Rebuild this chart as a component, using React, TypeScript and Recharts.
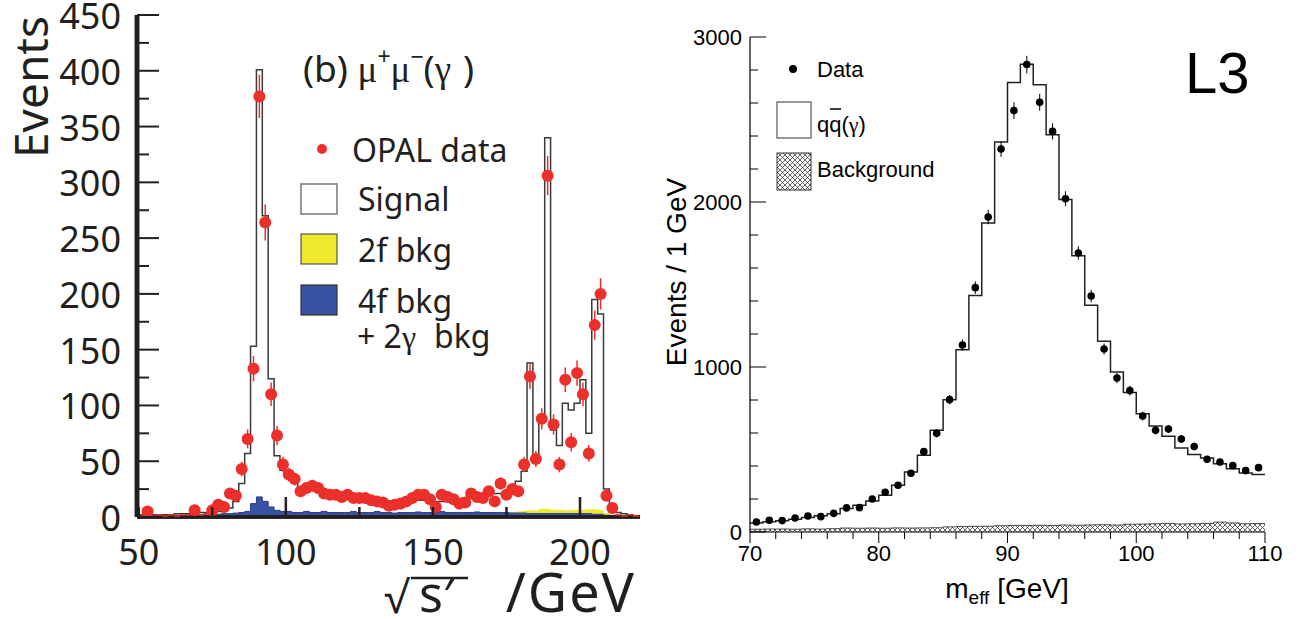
import React from 'react';
import { ComposedChart, Area, Scatter, XAxis, YAxis, ErrorBar, ReferenceLine } from 'recharts';

// ---------------- Left panel: OPAL mu+mu-(gamma) ----------------
const opalEdges = [
  50, 52, 54, 56, 58, 60, 62, 64, 66, 68, 70, 72, 74, 76, 78,
  80, 82, 84, 86, 88, 90, 92, 94, 96, 98,
  100, 102, 104, 106, 108, 110, 112, 114, 116, 118,
  120, 122, 124, 126, 128, 130, 132, 134, 136, 138,
  140, 142, 144, 146, 148, 150, 152, 154, 156, 158,
  160, 162, 164, 166, 168, 170, 172, 174, 176, 178,
  180, 182, 184, 186, 188, 190, 192, 194, 196, 198,
  200, 202, 204, 206, 208, 210, 212, 214, 216, 218, 220,
];
const opalSignalTotal = [
  2, 2, 2, 2, 2, 2, 3, 3, 3, 3, 4, 4, 5, 5, 6,
  8, 14, 30, 57, 153, 401, 270, 124, 55, 42,
  36, 32, 27, 26, 24, 23, 21, 20, 19, 18,
  18, 17, 16, 16, 15, 15, 14, 14, 14, 14,
  14, 14, 15, 15, 16, 14, 14, 15, 15, 16,
  17, 17, 18, 19, 20, 21, 21, 22, 27, 32,
  41, 138, 50, 90, 340, 78, 64, 102, 96, 102,
  123, 75, 195, 182, 25, 9, 4, 3, 2, 1,
];
const opal4fBkg = [
  1, 1, 1, 1, 1, 1.5, 1.5, 1.5, 2, 2, 2, 2, 2.5, 2.5, 3,
  3, 3.5, 4, 5, 12, 18, 14, 9, 6, 5,
  5, 4, 4, 5, 4, 4, 5, 4, 4, 4,
  4, 5, 4, 4, 4, 5, 4, 4, 3.5, 4,
  4, 4, 4.5, 4, 4, 4, 5, 4, 4, 4,
  4, 4, 4.5, 4, 4, 4, 4, 4, 4, 4,
  4, 3.5, 3.5, 3.5, 3.5, 3.5, 3.5, 3.5, 3.5, 3.5,
  3.5, 3.5, 3, 3, 2, 1.5, 1, 1, 1, 1,
];
const opal2fBkg = [
  0, 0, 0, 0, 0, 0, 0, 0, 0, 0, 0, 0, 0, 0, 0,
  0, 0, 0, 0, 0, 0, 0, 0, 0, 0,
  0, 0, 0, 0, 0, 0, 0, 0, 0, 0,
  0, 0, 0, 0, 0, 0, 0, 0, 0, 0,
  0, 0, 0, 0, 0, 0, 0, 0, 0, 0,
  0, 0, 0, 0, 0, 0, 0, 0, 0.5, 1,
  1.5, 2.5, 2.5, 4, 4, 3, 3, 2.5, 2.5, 3,
  3, 3.5, 4, 3.5, 1.5, 0.5, 0, 0, 0, 0,
];
const opalData = [
  0, 5, 0, 1, 0, 1, 0, 1, 1, 6, 1, 2, 6, 11, 9,
  21, 19, 43, 70, 133, 377, 264, 110, 73, 47,
  38, 34, 23, 26, 28, 26, 21, 20, 20, 18,
  20, 17, 17, 17, 15, 14, 13, 10, 11, 12,
  14, 17, 20, 20, 16, 9, 20, 18, 16, 12,
  13, 21, 18, 17, 23, 14, 30, 20, 25, 23,
  47, 126, 52, 88, 306, 83, 47, 123, 67, 129,
  110, 57, 172, 200, 19, 8, 1, 0, 1, 0,
];
const opalDataErr = [
  0, 2.2, 0, 1, 0, 1, 0, 1, 1, 2.4, 1, 1.4, 2.4, 3.3, 3,
  4.6, 4.4, 6.6, 8.4, 11.5, 19.4, 16.2, 10.5, 8.5, 6.9,
  6.2, 5.8, 4.8, 5.1, 5.3, 5.1, 4.6, 4.5, 4.5, 4.2,
  4.5, 4.1, 4.1, 4.1, 3.9, 3.7, 3.6, 3.2, 3.3, 3.5,
  3.7, 4.1, 4.5, 4.5, 4, 3, 4.5, 4.2, 4, 3.5,
  3.6, 4.6, 4.2, 4.1, 4.8, 3.7, 5.5, 4.5, 5, 4.8,
  6.9, 11.2, 7.2, 9.4, 17.5, 9.1, 6.9, 11.1, 8.2, 11.4,
  10.5, 7.5, 13.1, 14.1, 4.4, 2.8, 1, 0, 1, 0,
];
const opalXTicks = [50, 75, 100, 125, 150, 175, 200];
const opalXLabels = [50, 100, 150, 200];
const opalYTicks = [0, 25, 50, 75, 100, 125, 150, 175, 200, 225, 250, 275, 300, 325, 350, 375, 400, 425, 450];
const opalYLabels = [0, 50, 100, 150, 200, 250, 300, 350, 400, 450];
const OPAL_XMIN = 49.4;
const OPAL_XMAX = 220.4;

// ---------------- Right panel: L3 m_eff ----------------
const l3Edges = [
  70, 71, 72, 73, 74, 75, 76, 77, 78, 79,
  80, 81, 82, 83, 84, 85, 86, 87, 88, 89,
  90, 91, 92, 93, 94, 95, 96, 97, 98, 99,
  100, 101, 102, 103, 104, 105, 106, 107, 108, 109, 110,
];
const l3QQbar = [
  55, 62, 68, 78, 88, 98, 111, 142, 162, 188,
  222, 283, 364, 465, 616, 802, 1105, 1434, 1873, 2364,
  2724, 2835, 2711, 2408, 2015, 1675, 1374, 1156, 970, 845,
  717, 643, 580, 509, 469, 449, 414, 384, 358, 348,
];
const l3Background = [
  17, 18, 18, 17, 19, 18, 20, 24, 23, 24,
  23, 25, 24, 25, 26, 31, 33, 34, 35, 38,
  40, 40, 41, 40, 42, 41, 43, 44, 42, 47,
  48, 50, 52, 49, 50, 52, 60, 55, 50, 51,
];
const l3Data = [
  61, 71, 69, 85, 97, 93, 113, 146, 148, 200,
  241, 283, 356, 487, 598, 802, 1133, 1481, 1909, 2321,
  2554, 2833, 2604, 2428, 2020, 1691, 1430, 1109, 933, 857,
  703, 616, 624, 564, 518, 441, 424, 402, 372, 390,
];
const l3DataErr = [
  8, 8, 8, 9, 10, 10, 11, 12, 12, 14,
  16, 17, 19, 22, 24, 28, 34, 38, 44, 48,
  51, 53, 51, 49, 45, 41, 38, 33, 31, 29,
  27, 25, 25, 24, 23, 21, 21, 20, 19, 20,
];
const l3XTicks = [70, 72, 74, 76, 78, 80, 82, 84, 86, 88, 90, 92, 94, 96, 98, 100, 102, 104, 106, 108, 110];
const l3XLabels = [70, 80, 90, 100, 110];
const l3YTicks = [0, 200, 400, 600, 800, 1000, 1200, 1400, 1600, 1800, 2000, 2200, 2400, 2600, 2800, 3000];
const l3YLabels = [0, 1000, 2000, 3000];

// ---------------- tables for the library ----------------
const opalRows = opalEdges.map((x, i) => {
  const j = Math.min(i, opalSignalTotal.length - 1);
  return { x, total: opalSignalTotal[j], b4: opal4fBkg[j], b2: opal2fBkg[j] };
});
const opalPoints = opalData.map((y, i) => ({
  x: (opalEdges[i] + opalEdges[i + 1]) / 2,
  y,
  err: opalDataErr[i],
}));
const l3Rows = l3Edges.map((x, i) => {
  const j = Math.min(i, l3QQbar.length - 1);
  return { x, mc: l3QQbar[j], bg: l3Background[j] };
});
const l3Points = l3Data.map((y, i) => ({
  x: (l3Edges[i] + l3Edges[i + 1]) / 2,
  y,
  err: l3DataErr[i],
}));

// ---------------- styles ----------------
const OPAL_FONT = '"Noto Sans", "Open Sans", sans-serif';
const L3_FONT = '"Liberation Sans", Arial, sans-serif';
const GREEK = '"Liberation Serif", "DejaVu Serif", serif';
const INK = '#231f20';
const RED = '#ec2f2a';
const BLUE = '#3953a4';
const YELLOW = '#eeea2b';

const opalLeftTick = (props: any) => {
  const { x, y, payload } = props;
  const v = payload.value;
  const major = v % 50 === 0;
  return (
    <g>
      <line x1={x} x2={x + (major ? 22 : 12)} y1={y} y2={y} stroke={INK} strokeWidth={2} />
      {opalYLabels.includes(v) && (
        <text x={x - 16} y={y + 14} textAnchor="end" fontSize={36} fontFamily={OPAL_FONT} fill={INK}>
          {v}
        </text>
      )}
    </g>
  );
};
const opalRightTick = (props: any) => {
  const { x, y, payload } = props;
  const major = payload.value % 50 === 0;
  return <line x1={x} x2={x - (major ? 20 : 11)} y1={y} y2={y} stroke="#444" strokeWidth={1.5} />;
};
const opalBottomTick = (props: any) => {
  const { x, y, payload } = props;
  const v = payload.value;
  const long = v % 100 === 0;
  return (
    <g>
      <line x1={x} x2={x} y1={y} y2={y - (long ? 20 : 10)} stroke={INK} strokeWidth={2.5} />
      {opalXLabels.includes(v) && (
        <text x={x} y={y + 48} textAnchor="middle" fontSize={36} fontFamily={OPAL_FONT} fill={INK}>
          {v}
        </text>
      )}
    </g>
  );
};
const opalDot = (p: any) => {
  const { cx, cy, payload } = p;
  if (cx == null || cy == null) return <g />;
  if (payload.y <= 2) {
    return <line x1={cx - 3} x2={cx + 3} y1={cy - 1} y2={cy - 1} stroke={RED} strokeWidth={1.5} />;
  }
  return <circle cx={cx} cy={cy} r={6} fill={RED} />;
};

const l3LeftTick = (props: any) => {
  const { x, y, payload } = props;
  const v = payload.value;
  const major = v % 1000 === 0;
  return (
    <g>
      <line x1={x} x2={x + (major ? 16 : 8)} y1={y} y2={y} stroke="#000" strokeWidth={1} />
      {l3YLabels.includes(v) && (
        <text x={x - 8} y={y + 8} textAnchor="end" fontSize={22} fontFamily={L3_FONT} fill="#000">
          {v}
        </text>
      )}
    </g>
  );
};
const l3BottomTick = (props: any) => {
  const { x, y, payload } = props;
  const v = payload.value;
  const major = v % 10 === 0;
  return (
    <g>
      <line x1={x} x2={x} y1={y} y2={y + (major ? 11 : 7)} stroke="#000" strokeWidth={1} />
      {l3XLabels.includes(v) && (
        <text x={x} y={y + 29} textAnchor="middle" fontSize={22} fontFamily={L3_FONT} fill="#000">
          {v}
        </text>
      )}
    </g>
  );
};
const l3Dot = (p: any) => {
  const { cx, cy } = p;
  if (cx == null || cy == null) return <g />;
  return <circle cx={cx} cy={cy} r={3.8} fill="#000" />;
};

export default function App() {
  return (
    <div style={{ position: 'absolute', left: 0, top: 0, width: 1302, height: 619, background: '#fff', overflow: 'hidden' }}>
      <svg width={0} height={0} style={{ position: 'absolute' }}>
        <defs>
          <pattern id="l3hatch" width={5} height={5} patternUnits="userSpaceOnUse">
            <rect width={5} height={5} fill="#fff" />
            <path d="M0,0 L5,5 M5,0 L0,5" stroke="#222" strokeWidth={0.7} />
          </pattern>
        </defs>
      </svg>

      <div style={{ position: 'absolute', left: 0, top: 0 }}>
        <ComposedChart width={650} height={619} data={opalRows} margin={{ top: 15, right: 10, bottom: 0, left: 0 }}>
          <XAxis
            dataKey="x" type="number" domain={[OPAL_XMIN, OPAL_XMAX]} allowDataOverflow ticks={opalXTicks} interval={0}
            height={102} tickSize={0} tickMargin={0} tick={opalBottomTick} tickLine={false}
            axisLine={{ stroke: INK, strokeWidth: 3.5 }}
          />
          <XAxis
            xAxisId="top" dataKey="x" type="number" orientation="top" domain={[OPAL_XMIN, OPAL_XMAX]} allowDataOverflow
            height={0} tick={false} tickLine={false} axisLine={{ stroke: '#444', strokeWidth: 1.5 }}
          />
          <YAxis
            type="number" domain={[0, 450]} allowDataOverflow ticks={opalYTicks} interval={0} width={137}
            tickSize={0} tickMargin={0} tick={opalLeftTick} tickLine={false}
            axisLine={{ stroke: INK, strokeWidth: 4.5 }}
          />
          <YAxis
            yAxisId="right" orientation="right" type="number" domain={[0, 450]} allowDataOverflow ticks={opalYTicks}
            interval={0} width={0} tickSize={0} tickMargin={0} tick={opalRightTick} tickLine={false}
            axisLine={{ stroke: '#444', strokeWidth: 1.5 }}
          />
          <Area type="stepAfter" dataKey="total" fill="none" stroke="#3a3a3a" strokeWidth={1.5} isAnimationActive={false} />
          <Area type="stepAfter" dataKey="b4" stackId="bkg" fill={BLUE} fillOpacity={1} stroke="#2b3b7e" strokeWidth={1} isAnimationActive={false} />
          <Area type="stepAfter" dataKey="b2" stackId="bkg" fill={YELLOW} fillOpacity={1} stroke="none" isAnimationActive={false} />
          <ReferenceLine x={OPAL_XMIN} stroke={INK} strokeWidth={4.5} ifOverflow="visible" />
          <ReferenceLine y={0} stroke={INK} strokeWidth={3.5} ifOverflow="visible" />
          <Scatter data={opalPoints} dataKey="y" fill={RED} shape={opalDot} isAnimationActive={false}>
            <ErrorBar dataKey="err" direction="y" width={0} stroke={RED} strokeWidth={1.5} />
          </Scatter>
        </ComposedChart>
      </div>

      <div style={{ position: 'absolute', left: 650, top: 0 }}>
        <ComposedChart width={652} height={619} data={l3Rows} margin={{ top: 37, right: 37, bottom: 0, left: 0 }}>
          <XAxis
            dataKey="x" type="number" domain={[70, 110]} allowDataOverflow ticks={l3XTicks} interval={0}
            height={87} tickSize={0} tickMargin={0} tick={l3BottomTick} tickLine={false}
            axisLine={{ stroke: '#000', strokeWidth: 1.2 }}
          />
          <XAxis
            xAxisId="top" dataKey="x" type="number" orientation="top" domain={[70, 110]} allowDataOverflow
            height={0} tick={false} tickLine={false} axisLine={{ stroke: '#000', strokeWidth: 1.2 }}
          />
          <YAxis
            type="number" domain={[0, 3000]} allowDataOverflow ticks={l3YTicks} interval={0} width={100}
            tickSize={0} tickMargin={0} tick={l3LeftTick} tickLine={false}
            axisLine={{ stroke: '#000', strokeWidth: 1.2 }}
          />
          <YAxis
            yAxisId="right" orientation="right" type="number" domain={[0, 3000]} allowDataOverflow width={0}
            tick={false} tickLine={false} axisLine={{ stroke: '#000', strokeWidth: 1.2 }}
          />
          <Area type="stepAfter" dataKey="mc" fill="none" stroke="#222" strokeWidth={1.5} isAnimationActive={false} />
          <Area type="stepAfter" dataKey="bg" fill="url(#l3hatch)" fillOpacity={1} stroke="#222" strokeWidth={0.8} isAnimationActive={false} />
          <Scatter data={l3Points} dataKey="y" fill="#000" shape={l3Dot} isAnimationActive={false}>
            <ErrorBar dataKey="err" direction="y" width={0} stroke="#000" strokeWidth={1} />
          </Scatter>
        </ComposedChart>
      </div>

      <svg width={1302} height={619} style={{ position: 'absolute', left: 0, top: 0, pointerEvents: 'none' }}>
        {/* Left panel titles */}
        <text transform="rotate(-90 48 87)" x={48} y={87} textAnchor="middle" fontSize={46} fontFamily={OPAL_FONT} fill={INK}>
          Events
        </text>
        <text x={384} y={613} fontSize={44} fontFamily={OPAL_FONT} fill={INK}>√</text>
        <line x1={411} x2={468} y1={578} y2={578} stroke={INK} strokeWidth={2.5} />
        <text x={419} y={612} fontSize={50} fontFamily={OPAL_FONT} fill={INK}>s′</text>
        <text x={636} y={612} textAnchor="end" fontSize={54} letterSpacing={2} fontFamily={OPAL_FONT} fill={INK}>/GeV</text>

        {/* Left legend */}
        <text x={303} y={82} fontSize={37} fontFamily={OPAL_FONT} fill={INK}>
          (b) <tspan fontFamily={GREEK}>μ</tspan>
          <tspan fontSize={23} dy={-17}>+</tspan>
          <tspan dy={17} fontFamily={GREEK}>μ</tspan>
          <tspan fontSize={23} dy={-17}>−</tspan>
          <tspan dy={17}>(</tspan>
          <tspan fontFamily={GREEK}>γ</tspan>
          <tspan dx={12}>)</tspan>
        </text>
        <circle cx={322} cy={149} r={5} fill={RED} />
        <text x={352} y={162} fontSize={32} fontFamily={OPAL_FONT} fill={INK}>OPAL data</text>
        <rect x={301} y={184} width={36} height={30} fill="#fff" stroke="#777" strokeWidth={1.5} />
        <text x={358} y={211} fontSize={32} fontFamily={OPAL_FONT} fill={INK}>Signal</text>
        <rect x={301} y={234} width={36} height={30} fill={YELLOW} stroke="#555" strokeWidth={1.2} />
        <text x={358} y={262} fontSize={32} fontFamily={OPAL_FONT} fill={INK}>2f bkg</text>
        <rect x={301} y={285} width={36} height={30} fill={BLUE} stroke="#333" strokeWidth={1.2} />
        <text x={358} y={313} fontSize={32} fontFamily={OPAL_FONT} fill={INK}>4f bkg</text>
        <text x={357} y={348} fontSize={32} fontFamily={OPAL_FONT} fill={INK}>
          + 2<tspan fontFamily={GREEK}>γ</tspan>
          <tspan dx={18}>bkg</tspan>
        </text>

        {/* Right panel titles */}
        <text transform="rotate(-90 686 272)" x={686} y={272} textAnchor="middle" fontSize={28} fontFamily={L3_FONT} fill="#000">
          Events / 1 GeV
        </text>
        <text x={1007} y={598} textAnchor="middle" fontSize={28} fontFamily={L3_FONT} fill="#000">
          m<tspan fontSize={19} dy={6}>eff</tspan>
          <tspan dy={-6}> [GeV]</tspan>
        </text>
        <text x={1185} y={93} fontSize={58} fontFamily={L3_FONT} fill="#000">L3</text>

        {/* Right legend */}
        <circle cx={793} cy={69} r={4} fill="#000" />
        <text x={817} y={77} fontSize={22} fontFamily={L3_FONT} fill="#000">Data</text>
        <rect x={777} y={102} width={34} height={36} fill="#fff" stroke="#555" strokeWidth={1.2} />
        <text x={817} y={132} fontSize={22} fontFamily={L3_FONT} fill="#000">
          qq(<tspan fontFamily={GREEK}>γ</tspan>)
        </text>
        <line x1={830} x2={841} y1={109} y2={109} stroke="#000" strokeWidth={1.5} />
        <rect x={777} y={153} width={34} height={37} fill="url(#l3hatch)" stroke="#333" strokeWidth={1} />
        <text x={817} y={177} fontSize={22} fontFamily={L3_FONT} fill="#000">Background</text>
      </svg>
    </div>
  );
}
